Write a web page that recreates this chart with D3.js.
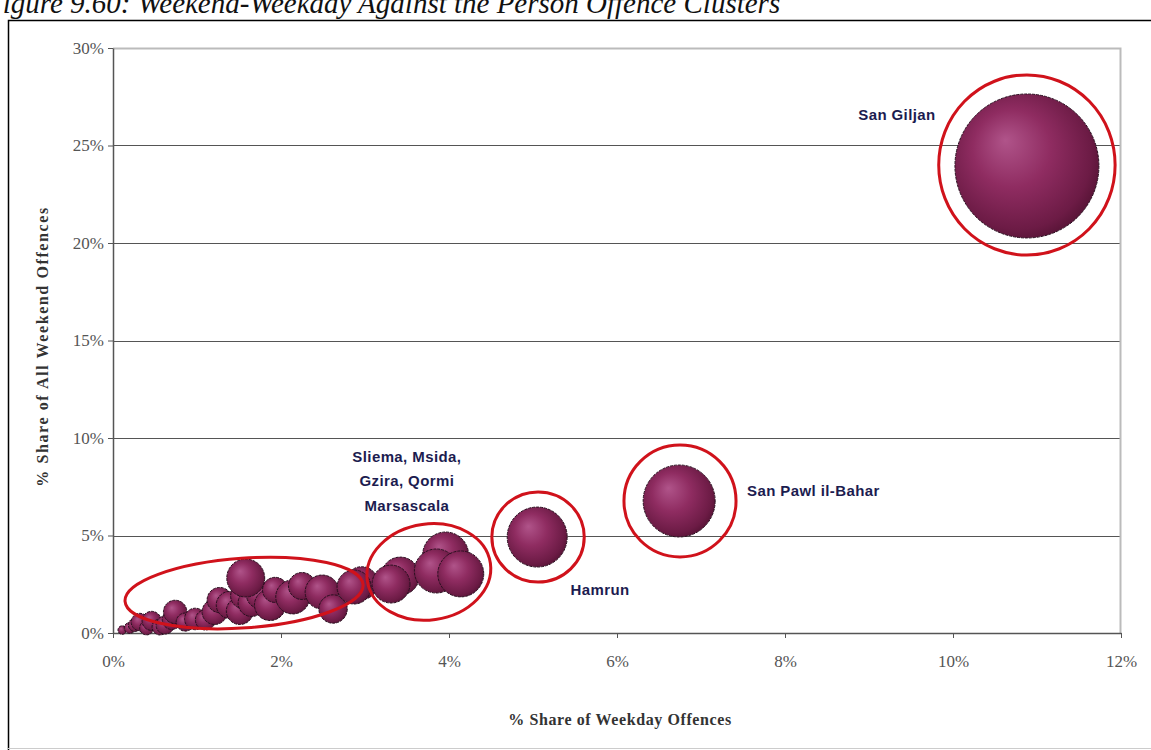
<!DOCTYPE html>
<html>
<head>
<meta charset="utf-8">
<script src="https://cdn.jsdelivr.net/npm/d3@7"></script>
<style>
  body { margin: 0; background: #fff; overflow: hidden; }
  svg { display: block; }
</style>
</head>
<body>
<div id="chart"></div>
<script>
// weekday share (%), weekend share (%), bubble size (share of all offences, %)
var weekday = [0.11, 0.20, 0.26, 0.32, 0.40, 0.46, 0.56, 0.62, 0.70, 0.74, 0.86, 0.98, 1.10,
    1.21, 1.27, 1.39, 1.51, 1.55, 1.65, 1.75, 1.87, 1.93, 2.14, 2.25, 2.49, 2.62, 2.96, 2.87,
    1.58, 3.42, 3.31, 3.96, 3.85, 4.14, 5.05, 6.74, 10.88];
var weekend = [0.15, 0.26, 0.41, 0.56, 0.26, 0.62, 0.31, 0.41, 0.67, 1.08, 0.56, 0.72, 0.67,
    1.08, 1.69, 1.44, 1.13, 1.90, 1.54, 1.95, 1.44, 2.21, 1.85, 2.41, 2.10, 1.23, 2.56, 2.36,
    2.82, 2.92, 2.51, 4.00, 3.18, 3.03, 4.92, 6.77, 23.95];
var sizes = [0.06, 0.10, 0.14, 0.25, 0.16, 0.30, 0.21, 0.27, 0.30, 0.45, 0.27, 0.38, 0.33,
    0.52, 0.52, 0.60, 0.60, 0.52, 0.60, 0.60, 0.80, 0.52, 0.95, 0.60, 0.95, 0.66, 0.88, 0.95,
    1.18, 1.18, 1.18, 1.73, 1.59, 1.73, 2.95, 4.25, 17.0];

var xTicks = [0, 2, 4, 6, 8, 10, 12];
var yTicks = [0, 5, 10, 15, 20, 25, 30];

// highlighted groups: centre (x%, y%) and radii in axis units
var ringX = [1.56, 3.76, 5.06, 6.75, 10.88];
var ringY = [2.05, 3.13, 4.92, 6.77, 24.0];
var ringRx = [1.42, 0.74, 0.55, 0.667, 1.05];
var ringRy = [1.79, 2.46, 2.31, 2.87, 4.62];
var ringTilt = [-4, -8, 0, 0, 0];

var labels = ["San Giljan", "San Pawl il-Bahar", "Hamrun", "Sliema, Msida,|Gzira, Qormi|Marsascala"];

var W = 1151, H = 750;
var margin = { top: 48, right: 30, bottom: 117, left: 113 };
var width = 1121 - margin.left,
    height = 633 - margin.top;

var svg = d3.select("#chart").append("svg")
    .attr("width", W).attr("height", H);

// gradient for the shaded spheres
var defs = svg.append("defs");
var grad = defs.append("radialGradient")
    .attr("id", "ball")
    .attr("cx", "45%").attr("cy", "45%").attr("r", "60%")
    .attr("fx", "35%").attr("fy", "32%");
grad.append("stop").attr("offset", "0%").attr("stop-color", "#b0548a");
grad.append("stop").attr("offset", "45%").attr("stop-color", "#8f2c61");
grad.append("stop").attr("offset", "85%").attr("stop-color", "#6c1b45");
grad.append("stop").attr("offset", "100%").attr("stop-color", "#531233");

// caption (cut off at the top of the page, as in the scan)
svg.append("text")
    .attr("x", -15).attr("y", 13)
    .style("font-family", "Liberation Serif, serif")
    .style("font-style", "italic")
    .style("font-size", "29px")
    .style("fill", "#111")
    .text("Figure 9.60: Weekend-Weekday Against the Person Offence Clusters");

// frame
svg.append("path")
    .attr("d", "M8.5," + H + "V20.5H" + W)
    .attr("fill", "none").attr("stroke", "#000").attr("stroke-width", 1.5);
svg.append("line")
    .attr("x1", 8).attr("x2", W).attr("y1", 748.5).attr("y2", 748.5)
    .attr("stroke", "#ccc");

var g = svg.append("g")
    .attr("transform", "translate(" + margin.left + "," + margin.top + ")");

var x = d3.scaleLinear().domain([0, 12]).range([0, width]);
var y = d3.scaleLinear().domain([0, 30]).range([height, 0]);
var r = d3.scaleSqrt().domain([0, 17]).range([0, 72]);

// grid lines
g.selectAll(".grid")
    .data(yTicks.filter(function(d) { return d > 0 && d < 30; }))
    .enter().append("line")
    .attr("x1", 0).attr("x2", width)
    .attr("y1", function(d) { return Math.round(y(d)) + 0.5; })
    .attr("y2", function(d) { return Math.round(y(d)) + 0.5; })
    .attr("stroke", "#555").attr("stroke-width", 1.2);

// plot border (top + right)
g.append("path")
    .attr("d", "M0,0.5H" + (width - 0.5) + "V" + height)
    .attr("fill", "none").attr("stroke", "#bbb").attr("stroke-width", 2);

// axes
var yAxis = g.append("g")
    .call(d3.axisLeft(y).tickValues(yTicks).tickSize(5).tickSizeOuter(0)
        .tickFormat(function(d) { return d + "%"; }));
var xAxis = g.append("g")
    .attr("transform", "translate(0," + height + ")")
    .call(d3.axisBottom(x).tickValues(xTicks).tickSize(5).tickSizeOuter(0)
        .tickFormat(function(d) { return d + "%"; }));

[yAxis, xAxis].forEach(function(ax) {
    ax.select(".domain").attr("stroke", "#555").attr("stroke-width", 1.5);
    ax.selectAll(".tick line").attr("stroke", "#555");
    ax.selectAll(".tick text")
        .style("font-family", "Liberation Serif, serif")
        .style("font-size", "17px")
        .style("fill", "#555");
});
yAxis.selectAll(".tick text").attr("x", -9);
xAxis.selectAll(".tick text").attr("y", 22);

// axis titles
g.append("text")
    .attr("transform", "rotate(-90)")
    .attr("x", -(height / 2) - 6)
    .attr("y", -65)
    .style("text-anchor", "middle")
    .style("font-family", "Liberation Serif, serif")
    .style("font-weight", "bold")
    .style("font-size", "16px")
    .style("letter-spacing", "1.6px")
    .style("fill", "#333")
    .text("% Share of All Weekend Offences");

g.append("text")
    .attr("x", 507)
    .attr("y", height + 92)
    .style("text-anchor", "middle")
    .style("font-family", "Liberation Serif, serif")
    .style("font-weight", "bold")
    .style("font-size", "16px")
    .style("letter-spacing", "0.6px")
    .style("fill", "#333")
    .text("% Share of Weekday Offences");

// bubbles
var bubbles = weekday.map(function(d, i) {
    return { x: d, y: weekend[i], size: sizes[i] };
});

g.selectAll(".bubble")
    .data(bubbles)
    .enter().append("circle")
    .attr("cx", function(d) { return x(d.x); })
    .attr("cy", function(d) { return y(d.y); })
    .attr("r", function(d) { return r(d.size); })
    .attr("fill", "url(#ball)")
    .attr("stroke", "#2a1020")
    .attr("stroke-width", 1)
    .attr("stroke-dasharray", "3,1");

// red rings round the groups
g.selectAll(".ring")
    .data(ringX)
    .enter().append("ellipse")
    .attr("transform", function(d, i) {
        return "translate(" + x(d) + "," + y(ringY[i]) + ") rotate(" + ringTilt[i] + ")";
    })
    .attr("rx", function(d, i) { return x(ringRx[i]) - x(0); })
    .attr("ry", function(d, i) { return y(0) - y(ringRy[i]); })
    .attr("fill", "none")
    .attr("stroke", "#d0121b")
    .attr("stroke-width", 3);

// group labels, placed next to their rings
function label(txt, px, py, anchor) {
    var t = g.append("text")
        .attr("x", px).attr("y", py)
        .style("text-anchor", anchor)
        .style("font-family", "Liberation Sans, Arial, sans-serif")
        .style("font-weight", "bold")
        .style("font-size", "15px")
        .style("letter-spacing", "0.4px")
        .style("fill", "#1c1c50");
    txt.split("|").forEach(function(line, i) {
        t.append("tspan").attr("x", px).attr("dy", i === 0 ? 0 : 24.5).text(line);
    });
}
label(labels[0], x(ringX[4]) - 130, y(ringY[4]) - 45, "middle");
label(labels[1], x(ringX[3]) + 67, y(ringY[3]) - 5, "start");
label(labels[2], x(ringX[2]) + 62, y(ringY[2]) + 58, "middle");
label(labels[3], x(ringX[1]) - 22, y(ringY[1]) - 110, "middle");
</script>
</body>
</html>
